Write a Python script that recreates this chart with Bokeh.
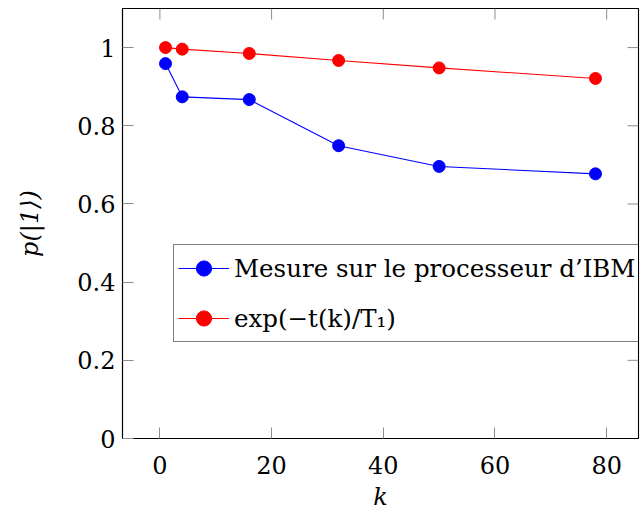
import math
from bokeh.plotting import figure
from bokeh.models import LinearAxis, Legend, LegendItem, FixedTicker, Range1d
from bokeh.embed import file_html
from bokeh.resources import INLINE

# data
k = [1, 4, 16, 32, 50, 78]
p_ibm = [0.959, 0.874, 0.867, 0.749, 0.696, 0.677]
p_exp = [1.000, 0.996, 0.985, 0.967, 0.948, 0.921]

x_ticks = [0, 20, 40, 60, 80]
y_ticks = [0, 0.2, 0.4, 0.6, 0.8, 1.0]
y_tick_labels = ["0", "0.2", "0.4", "0.6", "0.8", "1"]
label_ibm = "Mesure sur le processeur d\u2019IBM"
label_exp = "exp(\u2212t(k)/T\u2081)"

X_MIN, X_MAX = -6.7, 85.7
Y_MIN, Y_MAX = 0, 1.1

FONT = "DejaVu Serif"
FS = "24px"
TICK_COLOR = "#8c8c8c"
TICK_LEN = 11

p = figure(width=644, height=513, output_backend="svg", toolbar_location=None,
           x_range=Range1d(X_MIN, X_MAX), y_range=Range1d(Y_MIN, Y_MAX),
           min_border_left=122, min_border_right=6, min_border_top=8, min_border_bottom=75,
           x_axis_location=None, y_axis_location=None)
p.grid.visible = False
p.outline_line_color = "black"
p.outline_line_width = 1.1
p.background_fill_color = "white"
p.border_fill_color = "white"

def style_axis(ax, ticks):
    ax.ticker = FixedTicker(ticks=ticks)
    ax.axis_line_color = "black"
    ax.axis_line_width = 1.1
    ax.major_tick_in = TICK_LEN
    ax.major_tick_out = 0
    ax.major_tick_line_color = TICK_COLOR
    ax.major_tick_line_width = 1
    ax.minor_tick_line_color = None
    ax.major_label_text_font = FONT
    ax.major_label_text_font_size = FS
    ax.major_label_text_color = "black"
    ax.axis_label_text_font = FONT
    ax.axis_label_text_font_size = FS
    ax.axis_label_text_font_style = "italic"
    ax.axis_label_text_color = "black"

xb = LinearAxis(axis_label="k")
style_axis(xb, x_ticks)
xb.major_label_standoff = 17
xb.axis_label_standoff = 6
p.add_layout(xb, "below")

yl = LinearAxis(axis_label="p(|1\u27e9)")
style_axis(yl, y_ticks)
yl.major_label_overrides = {t: s for t, s in zip(y_ticks, y_tick_labels)}
yl.major_label_standoff = 7
yl.axis_label_standoff = 30
p.add_layout(yl, "left")

# mirrored inward ticks on top and right edges
p.ray(x=x_ticks, y=[Y_MAX] * len(x_ticks), length=TICK_LEN, length_units="screen",
      angle=-math.pi / 2, line_color=TICK_COLOR, line_width=1)
p.ray(x=[X_MAX] * len(y_ticks), y=y_ticks, length=TICK_LEN, length_units="screen",
      angle=math.pi, line_color=TICK_COLOR, line_width=1)

l1 = p.line(k, p_ibm, line_color="#0000ff", line_width=1.1)
s1 = p.scatter(k, p_ibm, size=12, marker="circle", fill_color="#0000ff", line_color="#0000ff")
l2 = p.line(k, p_exp, line_color="#ff0000", line_width=1.1)
s2 = p.scatter(k, p_exp, size=12, marker="circle", fill_color="#ff0000", line_color="#ff0000")

legend = Legend(items=[LegendItem(label=label_ibm, renderers=[l1, s1]),
                       LegendItem(label=label_exp, renderers=[l2, s2])],
                location=(51, 96))
legend.label_text_font = FONT
legend.label_text_font_size = "24.5px"
legend.label_text_color = "black"
legend.glyph_width = 51
legend.glyph_height = 38
legend.label_height = 38
legend.label_standoff = 5
legend.padding = 4
legend.spacing = 12
legend.margin = 0
legend.border_line_color = "black"
legend.border_line_width = 1.1
legend.background_fill_color = "white"
legend.background_fill_alpha = 1.0
p.add_layout(legend, "center")

open("out.html", "w").write(file_html(p, INLINE))
